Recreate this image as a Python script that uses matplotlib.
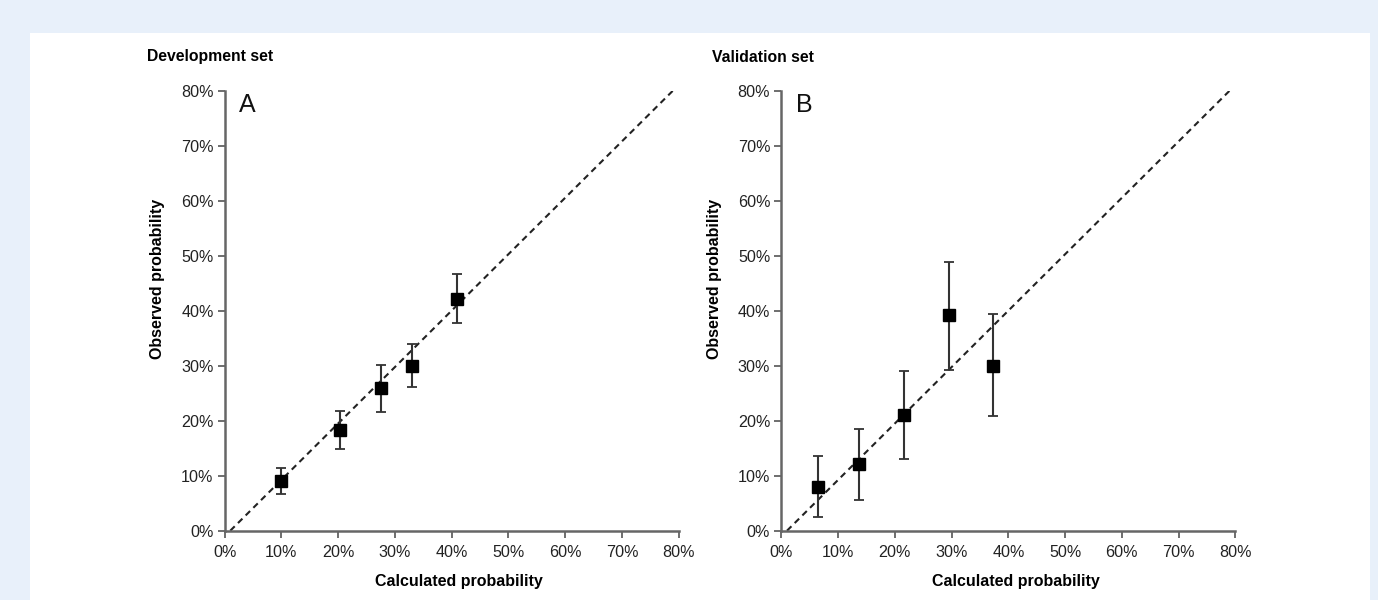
import matplotlib.pyplot as plt
from matplotlib.patches import Rectangle
from matplotlib.ticker import PercentFormatter

plt.rcParams['font.family'] = ['Liberation Sans', 'DejaVu Sans']

# Development set (panel A)
dev_calc = [0.100, 0.204, 0.276, 0.330, 0.409]
dev_obs = [0.090, 0.183, 0.260, 0.300, 0.421]
dev_low = [0.067, 0.149, 0.216, 0.261, 0.378]
dev_high = [0.114, 0.218, 0.301, 0.339, 0.466]

# Validation set (panel B)
val_calc = [0.065, 0.136, 0.216, 0.295, 0.373]
val_obs = [0.080, 0.121, 0.210, 0.392, 0.300]
val_low = [0.024, 0.056, 0.130, 0.293, 0.209]
val_high = [0.136, 0.184, 0.291, 0.489, 0.394]

# reference diagonal
diag_x = [0.01, 0.79]
diag_y = [0.0, 0.80]

ticks = [0, 0.1, 0.2, 0.3, 0.4, 0.5, 0.6, 0.7, 0.8]

fig = plt.figure(figsize=(13.78, 6), dpi=100)
fig.patch.set_facecolor('#e8f0fa')
# white card behind both panels
bg = fig.add_axes([0.0218, 0, 0.9724, 0.945], zorder=-10)
bg.set_axis_off()
bg.add_patch(Rectangle((0, 0), 1, 1, transform=bg.transAxes, facecolor='white', edgecolor='none'))

panels = [
    ([0.163, 0.1155, 0.3295, 0.7335], dev_calc, dev_obs, dev_low, dev_high, 'A', 'Development set', 0.107),
    ([0.567, 0.1155, 0.3295, 0.7335], val_calc, val_obs, val_low, val_high, 'B', 'Validation set', 0.517),
]

for rect, cx, oy, lo, hi, letter, title, tx in panels:
    ax = fig.add_axes(rect)
    ax.set_facecolor('none')
    yerr = [[o - l for o, l in zip(oy, lo)], [h - o for o, h in zip(oy, hi)]]
    ax.plot(diag_x, diag_y, color='#222222', lw=1.5, dashes=(3, 2.2), zorder=2)
    ax.errorbar(cx, oy, yerr=yerr, fmt='s', color='black', ms=8.5, ecolor='#333333',
                elinewidth=1.5, capsize=3.5, capthick=1.3, zorder=3, clip_on=False)
    ax.set_xlim(0, 0.8)
    ax.set_ylim(0, 0.8)
    ax.set_xticks(ticks)
    ax.set_yticks(ticks)
    ax.xaxis.set_major_formatter(PercentFormatter(1.0, decimals=0))
    ax.yaxis.set_major_formatter(PercentFormatter(1.0, decimals=0))
    for s in ['top', 'right']:
        ax.spines[s].set_visible(False)
    for s in ['left', 'bottom']:
        ax.spines[s].set_color('#666666')
        ax.spines[s].set_linewidth(1.8)
    ax.tick_params(direction='out', length=5, width=1.2, color='#555555',
                   labelsize=11.6, labelcolor='#222222')
    ax.tick_params(axis='x', pad=5)
    ax.tick_params(axis='y', pad=3)
    ax.set_xlabel('Calculated probability', fontsize=11.5, fontweight='bold', va='center')
    ax.xaxis.set_label_coords(0.517, -0.116)
    ax.set_ylabel('Observed probability', fontsize=11.5, fontweight='bold', va='center')
    ax.yaxis.set_label_coords(-0.148, 0.572)
    ax.text(0.032, 0.995, letter, transform=ax.transAxes, fontsize=18, va='top', ha='left',
            color='#111111')
    fig.text(tx, 0.905, title, fontsize=11.3, fontweight='bold', ha='left', va='center')

plt.savefig('out.png', dpi=100, facecolor=fig.get_facecolor())
